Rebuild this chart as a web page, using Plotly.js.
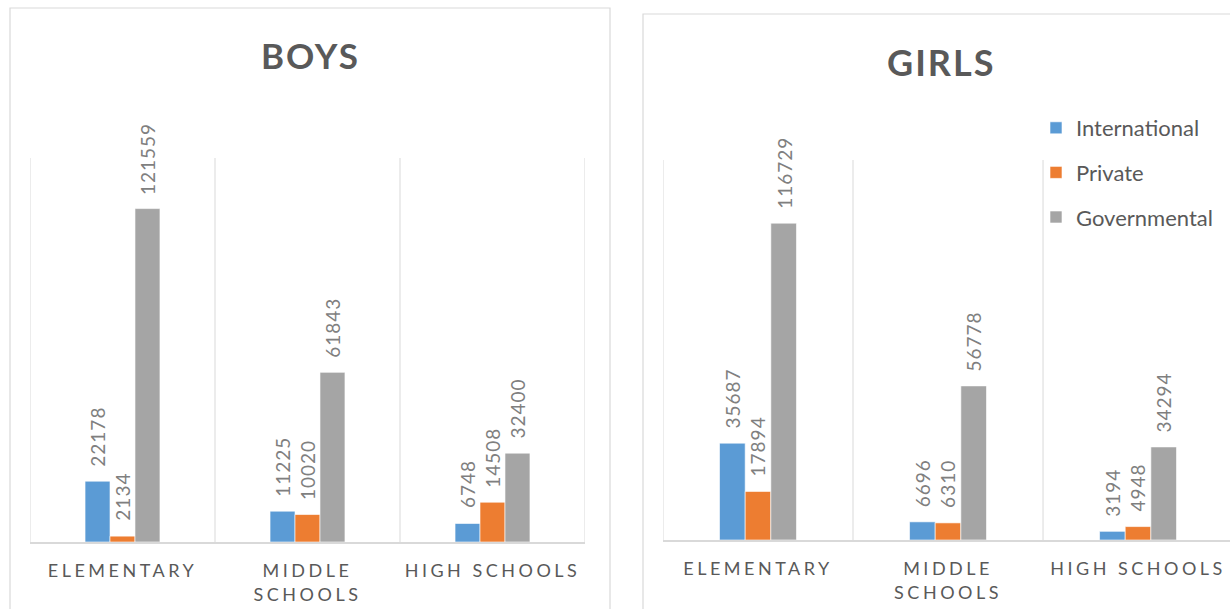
<!DOCTYPE html>
<html><head><meta charset="utf-8">
<script src="https://cdn.plot.ly/plotly-3.0.1.min.js"></script>
<style>
html,body{margin:0;padding:0;background:#fff;}
#chart{width:1230px;height:609px;}
.xtick text, .x2tick text{letter-spacing:3.5px;}
.annotation text{letter-spacing:1px;}
.annotation[data-index="0"] text, .annotation[data-index="1"] text{letter-spacing:2px;}
</style></head><body><div id="chart"></div>
<script>
const categories = ["ELEMENTARY", "MIDDLE<br>SCHOOLS", "HIGH SCHOOLS"];
const seriesNames = ["International", "Private", "Governmental"];
const boysInternational = [22178, 11225, 6748];
const boysPrivate = [2134, 10020, 14508];
const boysGovernmental = [121559, 61843, 32400];
const girlsInternational = [35687, 6696, 3194];
const girlsPrivate = [17894, 6310, 4948];
const girlsGovernmental = [116729, 56778, 34294];
const chartTitles = ["BOYS", "GIRLS"];

const colors = ["#5b9bd5", "#ed7d31", "#a5a5a5"];
const FONT = "Lato, 'Open Sans', sans-serif";
const W = 1230, H = 609;
const px = v => v / W, py = v => 1 - v / H;
const bargap = 0.595;

const boys = [boysInternational, boysPrivate, boysGovernmental];
const girls = [girlsInternational, girlsPrivate, girlsGovernmental];

const traces = [];
function addSet(sets, xa, ya, showLegend) {
  sets.forEach((vals, k) => {
    traces.push({
      type: 'bar', x: categories, y: vals, name: seriesNames[k],
      xaxis: xa, yaxis: ya, legendgroup: seriesNames[k], showlegend: showLegend,
      marker: {color: colors[k], line: {color: '#ffffff', width: 0.6}},
      hoverinfo: 'x+y+name'
    });
  });
}
addSet(boys, 'x', 'y', false);
addSet(girls, 'x2', 'y2', true);

const annotations = [
  {text: chartTitles[0], xref: 'paper', yref: 'paper', x: px(310), y: py(55), xanchor: 'center', yanchor: 'middle', showarrow: false,
   font: {family: FONT, size: 35, color: '#595959', weight: 'bold'}},
  {text: chartTitles[1], xref: 'paper', yref: 'paper', x: px(941), y: py(62), xanchor: 'center', yanchor: 'middle', showarrow: false,
   font: {family: FONT, size: 36, color: '#595959', weight: 'bold'}}
];
const off = (1 - bargap) / 3;
function addLabels(sets, xr, yr) {
  sets.forEach((vals, k) => {
    vals.forEach((v, i) => {
      annotations.push({
        xref: xr, yref: yr, x: i + off * (k - 1), y: v, text: String(v), textangle: -90,
        showarrow: false, xanchor: 'center', yanchor: 'bottom', yshift: 15,
        font: {family: FONT, size: 19, color: '#7f7f7f'}
      });
    });
  });
}
addLabels(boys, 'x', 'y');
addLabels(girls, 'x2', 'y2');

const shapes = [
  {type: 'rect', xref: 'paper', yref: 'paper', x0: px(10), x1: px(610), y0: py(8), y1: -0.05, line: {color: '#d9d9d9', width: 1.2}, layer: 'below'},
  {type: 'rect', xref: 'paper', yref: 'paper', x0: px(643), x1: 1.05, y0: py(14), y1: -0.05, line: {color: '#d9d9d9', width: 1.2}, layer: 'below'}
];
[-0.5, 0.5, 1.5, 2.5].forEach(b => {
  shapes.push({type: 'line', xref: 'x', yref: 'y domain', x0: b, x1: b, y0: 0, y1: 1, line: {color: '#d9d9d9', width: 1}, layer: 'below'});
  shapes.push({type: 'line', xref: 'x2', yref: 'y2 domain', x0: b, x1: b, y0: 0, y1: 1, line: {color: '#d9d9d9', width: 1}, layer: 'below'});
});

const xCommon = {
  type: 'category', showgrid: false, zeroline: false, showline: true, linecolor: '#d9d9d9', linewidth: 1.5,
  ticks: '', tickfont: {family: FONT, size: 18, color: '#595959'}, fixedrange: true, ticklabelstandoff: 12
};
const yCommon = {visible: false, range: [0, 140000], showgrid: false, zeroline: false, fixedrange: true};

const layout = {
  width: W, height: H, margin: {l: 0, r: 0, t: 0, b: 0},
  paper_bgcolor: '#ffffff', plot_bgcolor: 'rgba(0,0,0,0)',
  barmode: 'group', bargap: bargap, bargroupgap: 0,
  font: {family: FONT, color: '#595959'},
  xaxis: Object.assign({}, xCommon, {domain: [px(30), px(585)], range: [-0.5, 2.5], anchor: 'y'}),
  yaxis: Object.assign({}, yCommon, {domain: [py(542), py(158)], anchor: 'x'}),
  xaxis2: Object.assign({}, xCommon, {domain: [px(663), 1], range: [-0.5, 2.484], anchor: 'y2'}),
  yaxis2: Object.assign({}, yCommon, {domain: [py(540), py(160)], anchor: 'x2'}),
  showlegend: true,
  legend: {x: px(1036), y: py(107), xanchor: 'left', yanchor: 'top', bgcolor: 'rgba(0,0,0,0)',
    font: {family: FONT, size: 22, color: '#595959'}, tracegroupgap: 13, itemwidth: 30, traceorder: 'grouped'},
  annotations: annotations, shapes: shapes
};

Plotly.newPlot('chart', traces, layout, {displayModeBar: false, staticPlot: false});
</script></body></html>
